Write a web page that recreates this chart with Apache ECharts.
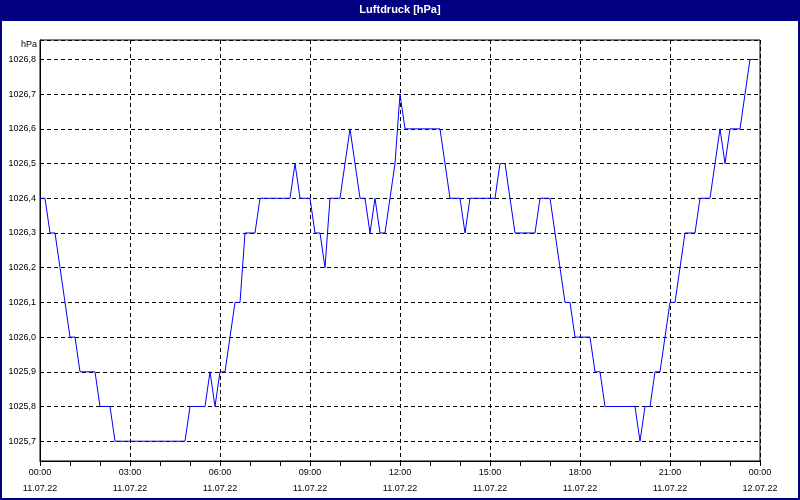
<!DOCTYPE html>
<html>
<head>
<meta charset="utf-8">
<script src="https://cdn.jsdelivr.net/npm/echarts@6/dist/echarts.min.js"></script>
<style>
html,body{margin:0;padding:0;background:#fff;}
#c{width:800px;height:500px;}
</style>
</head>
<body>
<div id="c"></div>
<script>
// Air pressure readings every 10 minutes, split in 3-hour blocks (18 samples each)
const p00_03 = [1026.4,1026.4,1026.3,1026.3,1026.2,1026.1,1026.0,1026.0,1025.9,1025.9,1025.9,1025.9,1025.8,1025.8,1025.8,1025.7,1025.7,1025.7];
const p03_06 = [1025.7,1025.7,1025.7,1025.7,1025.7,1025.7,1025.7,1025.7,1025.7,1025.7,1025.7,1025.7,1025.8,1025.8,1025.8,1025.8,1025.9,1025.8];
const p06_09 = [1025.9,1025.9,1026.0,1026.1,1026.1,1026.3,1026.3,1026.3,1026.4,1026.4,1026.4,1026.4,1026.4,1026.4,1026.4,1026.5,1026.4,1026.4];
const p09_12 = [1026.4,1026.3,1026.3,1026.2,1026.4,1026.4,1026.4,1026.5,1026.6,1026.5,1026.4,1026.4,1026.3,1026.4,1026.3,1026.3,1026.4,1026.5];
const p12_15 = [1026.7,1026.6,1026.6,1026.6,1026.6,1026.6,1026.6,1026.6,1026.6,1026.5,1026.4,1026.4,1026.4,1026.3,1026.4,1026.4,1026.4,1026.4];
const p15_18 = [1026.4,1026.4,1026.5,1026.5,1026.4,1026.3,1026.3,1026.3,1026.3,1026.3,1026.4,1026.4,1026.4,1026.3,1026.2,1026.1,1026.1,1026.0];
const p18_21 = [1026.0,1026.0,1026.0,1025.9,1025.9,1025.8,1025.8,1025.8,1025.8,1025.8,1025.8,1025.8,1025.7,1025.8,1025.8,1025.9,1025.9,1026.0];
const p21_24 = [1026.1,1026.1,1026.2,1026.3,1026.3,1026.3,1026.4,1026.4,1026.4,1026.5,1026.6,1026.5,1026.6,1026.6,1026.6,1026.7,1026.8,1026.8];

const sampleMinutes = 10;
const dayLabels = ['11.07.22', '12.07.22'];
const titleText = 'Luftdruck [hPa]';
const unitText = 'hPa';

const pressure = [].concat(p00_03, p03_06, p06_09, p09_12, p12_15, p15_18, p18_21, p21_24);
const seriesData = pressure.map((v, i) => [i * sampleMinutes, v]);

const FONT = 'Liberation Sans';
const chart = echarts.init(document.getElementById('c'), null, {renderer: 'canvas'});

function pad(n){ return (n < 10 ? '0' : '') + n; }

chart.setOption({
  animation: false,
  backgroundColor: '#ffffff',
  grid: {left: 40, right: 40, top: 40, bottom: 39, show: true, borderColor: '#000', borderWidth: 1, containLabel: false},
  graphic: [
    {type: 'rect', shape: {x: 0, y: 0, width: 800, height: 21}, style: {fill: '#000080'}, z: 10},
    {type: 'rect', shape: {x: 1, y: 1, width: 798, height: 498}, style: {fill: 'none', stroke: '#000080', lineWidth: 2}, z: 10},
    {type: 'text', x: 400, y: 10, style: {text: titleText, fill: '#fff', font: 'bold 11px "' + FONT + '"', align: 'center', verticalAlign: 'middle'}, z: 11},
    {type: 'text', x: 37, y: 45, style: {text: unitText, fill: '#000', font: '9px "' + FONT + '"', align: 'right', verticalAlign: 'middle'}, z: 11}
  ],
  xAxis: {
    type: 'value', min: 0, max: 1440, interval: 180,
    axisLine: {show: true, lineStyle: {color: '#000', width: 1}},
    axisTick: {show: true, length: 5, inside: false, lineStyle: {color: '#000'}},
    minorTick: {show: true, splitNumber: 3, length: 5, lineStyle: {color: '#000'}},
    splitLine: {show: true, lineStyle: {color: '#000', type: [4, 3], width: 1}},
    axisLabel: {
      margin: 4, color: '#000', fontFamily: FONT, fontSize: 9, lineHeight: 16,
      formatter: function (v) {
        const day = v >= 1440 ? 1 : 0;
        const m = v % 1440;
        return pad(Math.floor(m / 60)) + ':' + pad(m % 60) + '\n' + dayLabels[day];
      }
    }
  },
  yAxis: {
    type: 'value', min: 1025.643, max: 1026.856, splitNumber: 12,
    minInterval: 0.1, maxInterval: 0.1,
    axisLine: {show: true, lineStyle: {color: '#000'}},
    axisTick: {show: false},
    splitLine: {show: true, lineStyle: {color: '#000', type: [4, 3], width: 1}},
    axisLabel: {
      margin: 4, color: '#000', fontFamily: FONT, fontSize: 9,
      showMinLabel: false, showMaxLabel: false,
      formatter: function (v) { return v.toFixed(1).replace('.', ','); }
    }
  },
  series: [{
    type: 'line', data: seriesData, showSymbol: false, silent: true,
    lineStyle: {color: '#0000ff', width: 1}, z: 5
  }]
});
</script>
</body>
</html>
